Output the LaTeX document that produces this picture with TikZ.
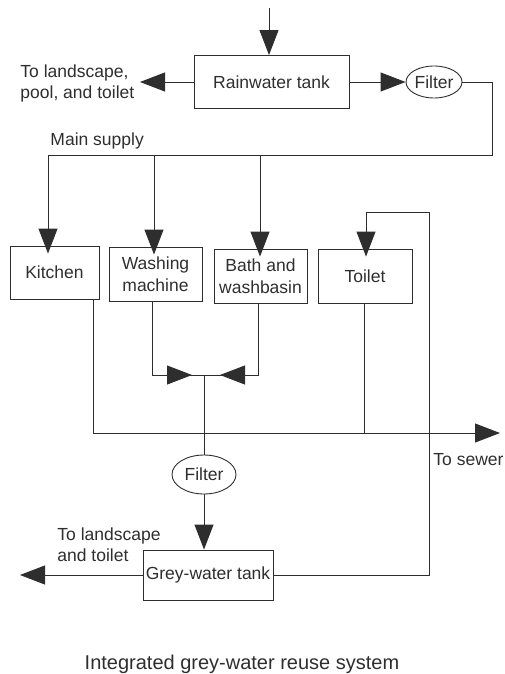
\documentclass[tikz,border=0pt]{standalone}
\usepackage{fontspec}
\setmainfont{Liberation Sans}
\usepackage{tikz}
\usetikzlibrary{positioning}
\usetikzlibrary{shapes.geometric}
\usetikzlibrary{arrows.meta}

\begin{document}
\begin{tikzpicture}[x=1pt,y=-1pt,line width=0.9pt,color=black!82,
        box/.style={draw,rectangle,inner sep=0pt,align=center,font=\fontsize{17.5}{22}\selectfont},
        filt/.style={draw,ellipse,inner sep=0pt,font=\fontsize{17.5}{22}\selectfont},
        lbl/.style={align=left,inner sep=0pt,font=\fontsize{17.5}{21}\selectfont},
        flow/.style={-{Triangle[length=25pt,width=19pt]}}]
        \useasboundingbox (0,0) rectangle (505,674);

        % tanks, filters and fixtures
        \node[box,minimum width=155pt,minimum height=53pt] (rain) at (271.5,82) {Rainwater tank};
        \node[filt,minimum width=56pt,minimum height=32pt] (filt1) at (434,82) {Filter};
        \node[box,minimum width=89pt,minimum height=53pt] (kitchen) at (54.5,272.5) {Kitchen};
        \node[box,minimum width=93pt,minimum height=54pt] (washing) at (155.5,274) {Washing\\machine};
        \node[box,minimum width=93pt,minimum height=54pt] (bath) at (260.5,276) {Bath and\\washbasin};
        \node[box,minimum width=94pt,minimum height=54pt] (toilet) at (365,276) {Toilet};
        \node[filt,minimum width=64pt,minimum height=39pt] (filt2) at (204,474.5) {Filter};
        \node[box,minimum width=130pt,minimum height=50pt] (grey) at (208,575) {Grey-water tank};

        % labels
        \node[lbl,anchor=west] (out1) at (20,83) {To landscape,\\pool, and toilet};
        \node[lbl,anchor=west] (mains) at (50,141) {Main supply};
        \node[lbl,anchor=west] (sewer) at (433,460) {To sewer};
        \node[lbl,anchor=west] (out2) at (57,545) {To landscape\\and toilet};
        \node[font=\fontsize{20}{24}\selectfont] (caption) at (242,664) {Integrated grey-water reuse system};

        % pipe corners and free ends
        \coordinate (rainin) at (269,8);
        \coordinate (out1tip) at (140,82);
        \coordinate (supR) at (492,155);
        \coordinate (supL) at (48,155);
        \coordinate (supW) at (154,155);
        \coordinate (supB) at (260,155);
        \coordinate (loopT) at (366,212);
        \coordinate (loopR) at (429,212);
        \coordinate (drain) at (93,433);
        \coordinate (tdrain) at (364,433);
        \coordinate (sewertip) at (500,433);
        \coordinate (wm) at (152,375);
        \coordinate (bw) at (258,375);
        \coordinate (jn) at (204,375);
        \coordinate (out2tip) at (20,575);

        % rainwater side
        \draw[flow] (rainin) -- (rain.north -| rainin);
        \draw[flow] (rain.west) -- (out1tip);
        \draw[flow] (rain.east) -- (filt1.west);
        \draw (filt1.east) -| (supR) -- (supL);
        \draw[flow,shorten >=-8pt] (supL) -- (supL |- kitchen.north);
        \draw[flow,shorten >=-8pt] (supW) -- (supW |- washing.north);
        \draw[flow,shorten >=-8pt] (supB) -- (supB |- bath.north);

        % grey-water side
        \draw (washing.south -| wm) -- (wm) -- (bw) -- (bath.south -| bw);
        \draw[flow] (wm) -- ([xshift=-12pt]jn);
        \draw[flow] (bw) -- ([xshift=16pt]jn);
        \draw (jn) -- (filt2.north);
        \draw[flow] (filt2.south) -- (filt2.south |- grey.north);
        \draw[flow] (grey.west) -- (out2tip);
        \draw[flow,shorten >=-8pt] (grey.east) -| (loopR) -- (loopT) -- (loopT |- toilet.north);

        % to sewer
        \draw (drain |- kitchen.south) -- (drain);
        \draw (tdrain |- toilet.south) -- (tdrain);
        \draw[flow] (drain) -- (sewertip);
    \end{tikzpicture}
\end{document}
